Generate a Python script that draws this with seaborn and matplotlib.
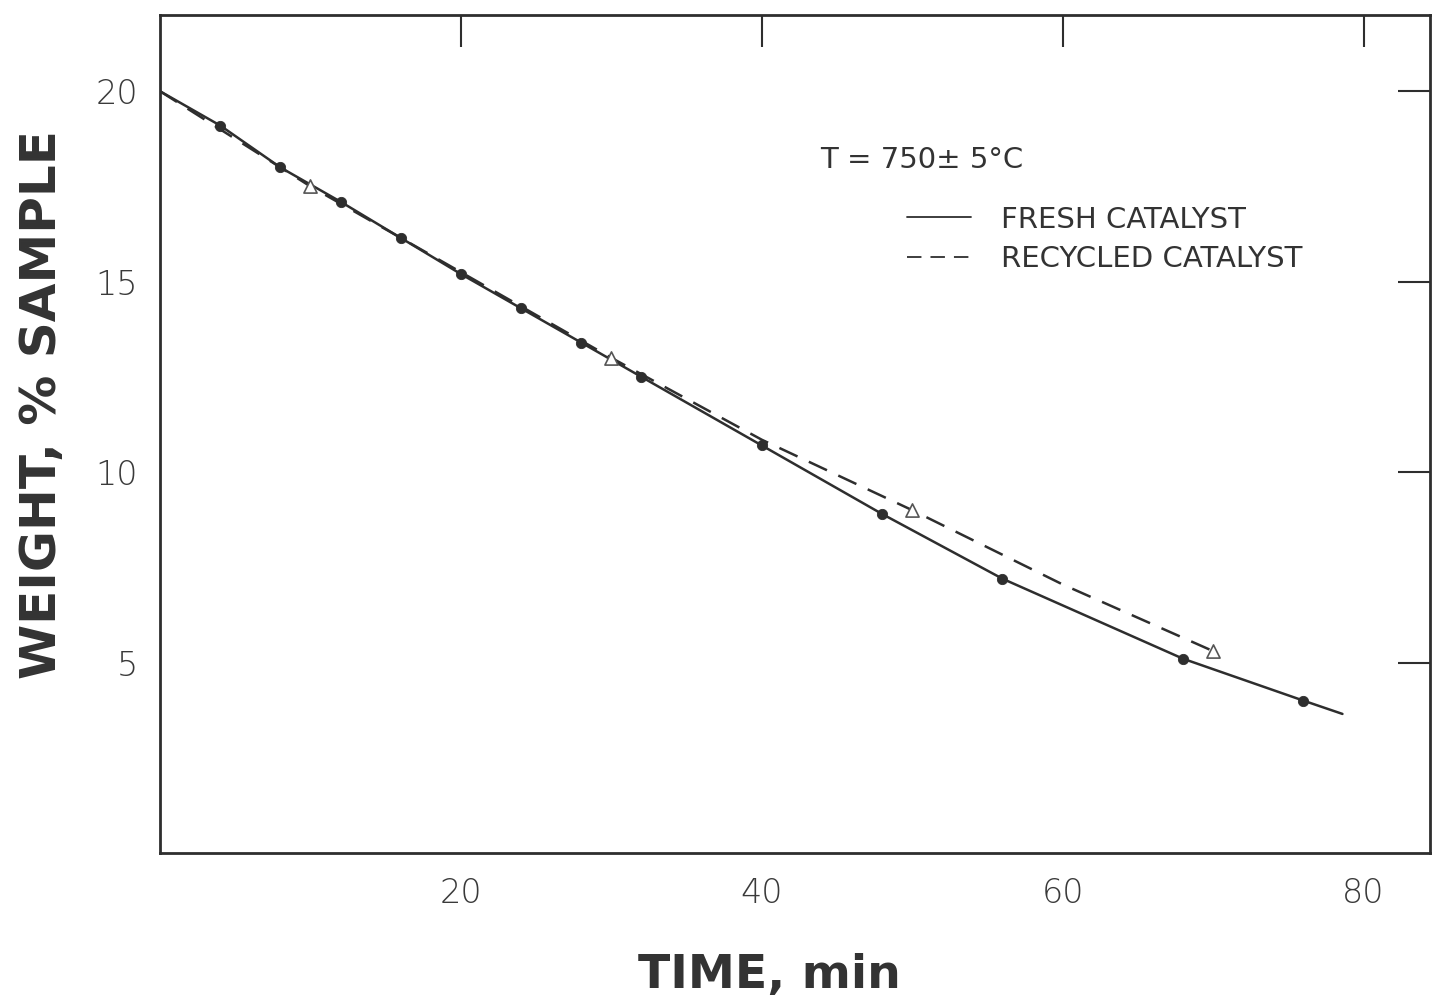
#
# weight loss plot, fresh vs recycled catalyst
#

import matplotlib
matplotlib.use("Agg")
import matplotlib.pyplot as plt
import pandas as pd
import seaborn as sns

fresh_time = [4, 8, 12, 16, 20, 24, 28, 32, 40, 48, 56, 68, 76]
fresh_weight = [19.1, 18.0, 17.1, 16.15, 15.2, 14.3, 13.4, 12.5, 10.7, 8.9, 7.2, 5.1, 4.0]

recycled_time = [10, 30, 50, 70]
recycled_weight = [17.5, 13.0, 9.0, 5.3]

# hand-drawn curves through the points
fresh_curve_time = [0, 4, 8, 12, 16, 20, 24, 28, 32, 40, 48, 56, 68, 76, 78.6]
fresh_curve_weight = [20.0, 19.1, 18.0, 17.1, 16.15, 15.2, 14.3, 13.4, 12.5, 10.7, 8.9, 7.2, 5.1, 4.0, 3.65]

recycled_curve_time = [0, 10, 20, 30, 40, 50, 60, 70]
recycled_curve_weight = [20.0, 17.5, 15.25, 13.0, 10.85, 9.0, 7.05, 5.3]

x_ticks = [20, 40, 60, 80]
y_ticks = [5, 10, 15, 20]

ink = "#2e2e2e"

sns.set_style("white")
plt.rcParams["font.family"] = ["DejaVu Sans"]

fig = plt.figure(figsize=(14.33, 10.07), dpi=100)
ax = fig.add_axes([0.1117, 0.153, 0.886, 0.832])

fresh_line = pd.DataFrame({"time": fresh_curve_time, "weight": fresh_curve_weight})
recycled_line = pd.DataFrame({"time": recycled_curve_time, "weight": recycled_curve_weight})

sns.lineplot(data=fresh_line, x="time", y="weight", ax=ax, color=ink, lw=1.8,
             label="FRESH CATALYST", sort=False)
sns.lineplot(data=recycled_line, x="time", y="weight", ax=ax, color=ink, lw=1.8,
             label="RECYCLED CATALYST", sort=False)
ax.lines[1].set_dashes((8, 5))

sns.scatterplot(x=fresh_time, y=fresh_weight, ax=ax, color=ink, s=55,
                marker="o", edgecolor=ink, zorder=3)
sns.scatterplot(x=recycled_time, y=recycled_weight, ax=ax, s=90, marker="^",
                facecolor="white", edgecolor="#555555", linewidth=1.2, zorder=3)

ax.set_xlim(0, 84.4)
ax.set_ylim(0, 22)
ax.set_xticks(x_ticks)
ax.set_yticks(y_ticks)

for side in ["left", "right", "top", "bottom"]:
    ax.spines[side].set_visible(True)
    ax.spines[side].set_color(ink)
    ax.spines[side].set_linewidth(2)

ax.tick_params(direction="in", length=23, width=1.5, color=ink,
               top=True, right=True, labelsize=24, labelcolor="#3a3a3a")
ax.tick_params(axis="y", pad=16)
ax.tick_params(axis="x", pad=17)
for lab in ax.get_xticklabels() + ax.get_yticklabels():
    lab.set_fontweight("light")

ax.set_xlabel("TIME, min", fontsize=34, fontweight="bold", color="#333333", va="center")
ax.xaxis.set_label_coords(0.48, -0.146)
ax.set_ylabel("WEIGHT, % SAMPLE", fontsize=36, fontweight="bold", color="#333333", va="center")
ax.yaxis.set_label_coords(-0.093, 0.535)

ax.text(43.9, 18.2, "T = 750± 5°C", fontsize=21, color="#333333", ha="left", va="center")

handles = ax.lines[:2]
ax.legend(handles=handles, labels=["FRESH CATALYST", "RECYCLED CATALYST"],
          loc="upper left", bbox_to_anchor=(0.577, 0.79), frameon=False,
          borderpad=0, handlelength=2.2, handletextpad=1.0, labelspacing=0.4,
          fontsize=21, labelcolor="#333333")
for h in ax.get_legend().get_lines():
    h.set_linewidth(1.3)

fig.savefig("out.png", dpi=100, facecolor="white")
